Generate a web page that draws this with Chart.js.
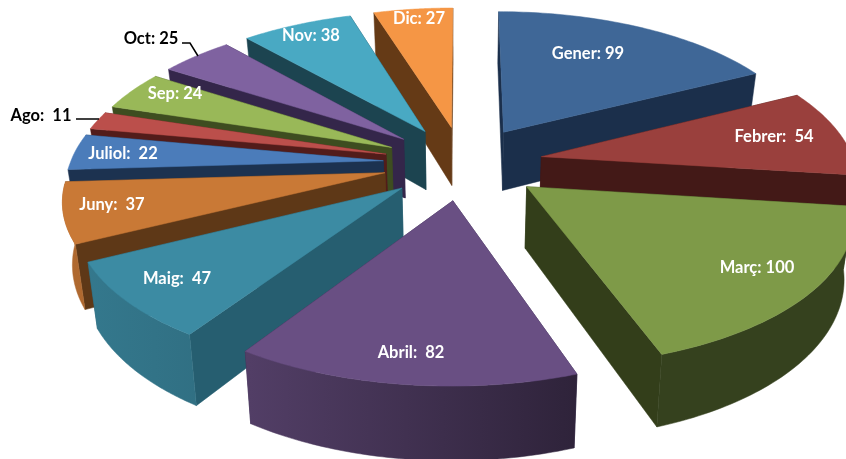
<!DOCTYPE html>
<html>
<head>
<meta charset="utf-8">
<style>
  html, body { margin: 0; padding: 0; background: #fff; overflow: hidden; }
  canvas { display: block; }
</style>
<script src="https://cdn.jsdelivr.net/npm/chart.js@4/dist/chart.umd.min.js"></script>
</head>
<body>
<canvas id="myChart" width="846" height="459"></canvas>
<script>
const months = ["Gener", "Febrer", "Març", "Abril", "Maig", "Juny", "Juliol", "Ago", "Sep", "Oct", "Nov", "Dic"];
const visits = [99, 54, 100, 82, 47, 37, 22, 11, 24, 25, 38, 27];
const labelTexts = ["Gener: 99", "Febrer:  54", "Març: 100", "Abril:  82", "Maig:  47", "Juny:  37", "Juliol:  22", "Ago:  11", "Sep: 24", "Oct: 25", "Nov: 38", "Dic: 27"];

const topColors = ["#3f6797", "#9a403d", "#7e9a48", "#694f83", "#3c8ba3", "#c97936", "#4b7cba", "#bb4f4b", "#99b858", "#7f62a0", "#49a9c3", "#f59645"];
const cutColors = ["#1b2f4b", "#431917", "#333e1a", "#33264a", "#265e70", "#5e3817", "#1c3250", "#521c1a", "#3e4d20", "#34264a", "#1c4450", "#653a16"];

// 3D look: ground plane -> screen (near half of the pie is fitted separately)
const view = { cx: 463, cy: 163, tiltFar: 0.465, tiltNear: 0.457, perspFar: 0.00045, perspNear: 0.0005, radius: 313, depth: 60, shrink: 0.025, explode: 80 };

// where the value labels sit (centre of text)
const labelSpots = [[588, 54], [774, 137], [757, 268], [411, 353], [177, 279], [112, 205], [123, 154], [41, 116], [175, 94], [151, 39], [311, 36], [419, 19]];
const outsideLabels = ["Ago", "Oct"];
const leaders = { Ago: [[76, 119], [99, 119]], Oct: [[182, 43], [190, 43], [198, 56]] };

function project(x, y, z) {
  const w = 1 + (y < 0 ? view.perspNear : view.perspFar) * y;
  const tilt = y < 0 ? view.tiltNear : view.tiltFar;
  const s = 1 - view.shrink * z;
  return [view.cx + (x / w) * s, view.cy - (tilt * y) / w + (view.depth * z) / w];
}

function shade(hex, f) {
  const n = parseInt(hex.slice(1), 16);
  const c = [(n >> 16) & 255, (n >> 8) & 255, n & 255].map(v => Math.round(v * f));
  return `rgb(${c[0]},${c[1]},${c[2]})`;
}

function fillPoly(ctx, pts, fill) {
  ctx.beginPath();
  pts.forEach((p, i) => (i ? ctx.lineTo(p[0], p[1]) : ctx.moveTo(p[0], p[1])));
  ctx.closePath();
  ctx.fillStyle = fill;
  ctx.strokeStyle = fill;
  ctx.lineWidth = 0.5;
  ctx.fill();
  ctx.stroke();
}

function drawSlice(ctx, arc, i) {
  const a0 = arc.startAngle, a1 = arc.endAngle, mid = (a0 + a1) / 2;
  const ax = Math.cos(mid) * view.explode, ay = -Math.sin(mid) * view.explode;

  const rim = [];
  const steps = 60;
  for (let s = 0; s <= steps; s++) {
    const a = a0 + ((a1 - a0) * s) / steps;
    rim.push({ x: ax + Math.cos(a) * view.radius, y: ay - Math.sin(a) * view.radius, a });
  }
  const first = rim[0], last = rim[steps];

  const quad = (p, q) => [project(p.x, p.y, 0), project(q.x, q.y, 0), project(q.x, q.y, 1), project(p.x, p.y, 1)];

  // cut faces, the far one first
  const apex = { x: ax, y: ay };
  const faces = [first, last].map(p => ({ pts: quad(apex, p), y: (ay + p.y) / 2 }));
  faces.sort((f, g) => g.y - f.y);
  faces.forEach(f => fillPoly(ctx, f.pts, cutColors[i]));

  // curved outer wall, only the part that faces the viewer
  const grad = ctx.createLinearGradient(60, 0, 600, 0);
  grad.addColorStop(0, shade(topColors[i], 0.88));
  grad.addColorStop(0.35, shade(topColors[i], 0.78));
  grad.addColorStop(1, shade(topColors[i], 0.42));
  const facing = rim.filter(p => Math.sin(p.a) > 0.07);
  if (facing.length > 1) {
    const band = facing.map(p => project(p.x, p.y, 0)).concat(facing.slice().reverse().map(p => project(p.x, p.y, 1)));
    fillPoly(ctx, band, grad);
  }

  // top face
  fillPoly(ctx, [project(ax, ay, 0)].concat(rim.map(p => project(p.x, p.y, 0))), arc.options.backgroundColor);
}

const pie3d = {
  id: "pie3d",
  beforeDatasetsDraw(chart) {
    const ctx = chart.ctx;
    const arcs = chart.getDatasetMeta(0).data.map((arc, i) => {
      const mid = (arc.startAngle + arc.endAngle) / 2;
      return { arc, i, far: -Math.sin(mid) };
    });
    arcs.sort((p, q) => q.far - p.far);
    arcs.forEach(({ arc, i }) => drawSlice(ctx, arc, i));
    return false;
  },
  afterDraw(chart) {
    const ctx = chart.ctx;
    ctx.save();
    ctx.font = "bold 16.5px Lato";
    ctx.textAlign = "center";
    ctx.textBaseline = "middle";
    months.forEach((m, i) => {
      ctx.fillStyle = outsideLabels.includes(m) ? "#000" : "#fff";
      ctx.fillText(labelTexts[i], labelSpots[i][0], labelSpots[i][1]);
    });
    ctx.strokeStyle = "#000";
    ctx.lineWidth = 1.5;
    Object.values(leaders).forEach(line => {
      ctx.beginPath();
      line.forEach((p, k) => (k ? ctx.lineTo(p[0], p[1]) : ctx.moveTo(p[0], p[1])));
      ctx.stroke();
    });
    ctx.restore();
  },
};

new Chart(document.getElementById("myChart"), {
  type: "pie",
  data: {
    labels: months,
    datasets: [{ data: visits, backgroundColor: topColors, borderWidth: 0 }],
  },
  options: {
    responsive: false,
    animation: false,
    plugins: { legend: { display: false }, tooltip: { enabled: false } },
  },
  plugins: [pie3d],
});
</script>
</body>
</html>
